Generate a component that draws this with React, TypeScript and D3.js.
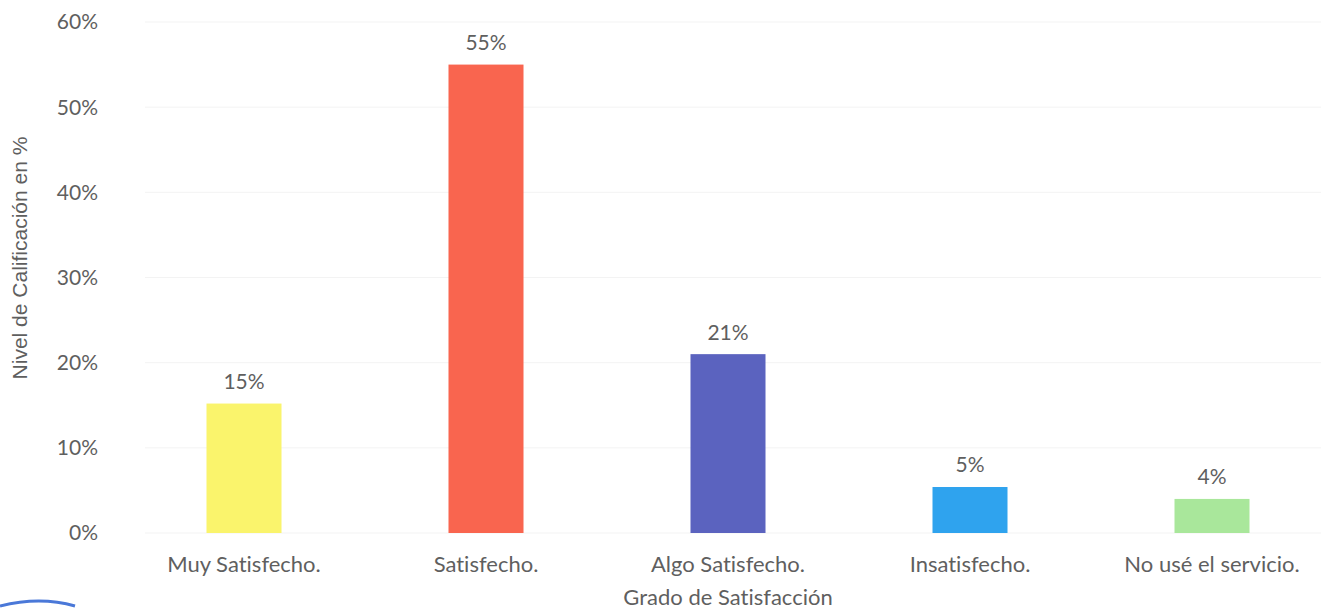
import * as d3 from 'd3';
import { useEffect, useRef } from 'react';

const categories = ['Muy Satisfecho.', 'Satisfecho.', 'Algo Satisfecho.', 'Insatisfecho.', 'No usé el servicio.'];
const values = [15.2, 55, 21, 5.4, 4];
const barColors = ['#FAF46C', '#F9654F', '#5B63BF', '#2FA3EE', '#A9E79B'];
const yTicks = [0, 10, 20, 30, 40, 50, 60];

const W = 1321;
const H = 609;

const App = () => {
  const ref = useRef<SVGSVGElement>(null);

  useEffect(() => {
    const svg = d3.select(ref.current);
    svg.selectAll('*').remove();

    const left = 123;
    const right = 1333;
    const top = 22;
    const bottom = 533;
    const font = "Lato, 'Open Sans', sans-serif";
    const fs = 21;
    const textColor = '#5f5f5f';

    const x = d3.scaleBand().domain(categories).range([left, right]).paddingInner(0.69).paddingOuter(0.345);
    const y = d3.scaleLinear().domain([0, 60]).range([bottom, top]);

    // faint gridlines
    svg.append('g')
      .selectAll('line')
      .data(yTicks)
      .enter()
      .append('line')
      .attr('x1', 145)
      .attr('x2', W)
      .attr('y1', d => y(d))
      .attr('y2', d => y(d))
      .attr('stroke', '#f3f3f3')
      .attr('stroke-width', 1);

    // y tick labels
    svg.append('g')
      .selectAll('text')
      .data(yTicks)
      .enter()
      .append('text')
      .attr('x', 98)
      .attr('y', d => y(d))
      .attr('dy', '0.35em')
      .attr('text-anchor', 'end')
      .attr('font-family', font)
      .attr('font-size', fs)
      .attr('fill', textColor)
      .text(d => `${d}%`);

    const bw = 75;
    const cx = (c: string) => x(c)! + x.bandwidth() / 2;

    svg.append('g')
      .selectAll('rect')
      .data(categories)
      .enter()
      .append('rect')
      .attr('x', c => cx(c) - bw / 2)
      .attr('y', (_, i) => y(values[i]))
      .attr('width', bw)
      .attr('height', (_, i) => bottom - y(values[i]))
      .attr('fill', (_, i) => barColors[i]);

    // value labels
    svg.append('g')
      .selectAll('text')
      .data(categories)
      .enter()
      .append('text')
      .attr('x', c => cx(c))
      .attr('y', (_, i) => y(values[i]) - 22)
      .attr('dy', '0.35em')
      .attr('text-anchor', 'middle')
      .attr('font-family', font)
      .attr('font-size', fs)
      .attr('fill', textColor)
      .text((_, i) => `${Math.round(values[i])}%`);

    // category labels
    svg.append('g')
      .selectAll('text')
      .data(categories)
      .enter()
      .append('text')
      .attr('x', c => cx(c))
      .attr('y', 564)
      .attr('dy', '0.35em')
      .attr('text-anchor', 'middle')
      .attr('font-family', font)
      .attr('font-size', 22)
      .style('font-variant-ligatures', 'none')
      .attr('fill', textColor)
      .text(c => c);

    svg.append('text')
      .attr('x', 728)
      .attr('y', 597)
      .attr('dy', '0.35em')
      .attr('text-anchor', 'middle')
      .attr('font-family', font)
      .attr('font-size', 22)
      .style('font-variant-ligatures', 'none')
      .attr('fill', textColor)
      .text('Grado de Satisfacción');

    svg.append('text')
      .attr('transform', 'translate(20,258) rotate(-90)')
      .attr('dy', '0.35em')
      .attr('text-anchor', 'middle')
      .attr('font-family', "'Liberation Sans', Arial, sans-serif")
      .attr('font-size', 21)
      .attr('fill', textColor)
      .text('Nivel de Calificación en %');

    // stamp edge at bottom-left of the scan
    svg.append('path')
      .attr('d', 'M 0 606 Q 40 596 75 606')
      .attr('fill', 'none')
      .attr('stroke', '#4a78d8')
      .attr('stroke-width', 3);
  }, []);

  return (
    <svg
      ref={ref}
      width={W}
      height={H}
      style={{ position: 'absolute', left: 0, top: 0, background: '#fff' }}
    />
  );
};

export default App;
